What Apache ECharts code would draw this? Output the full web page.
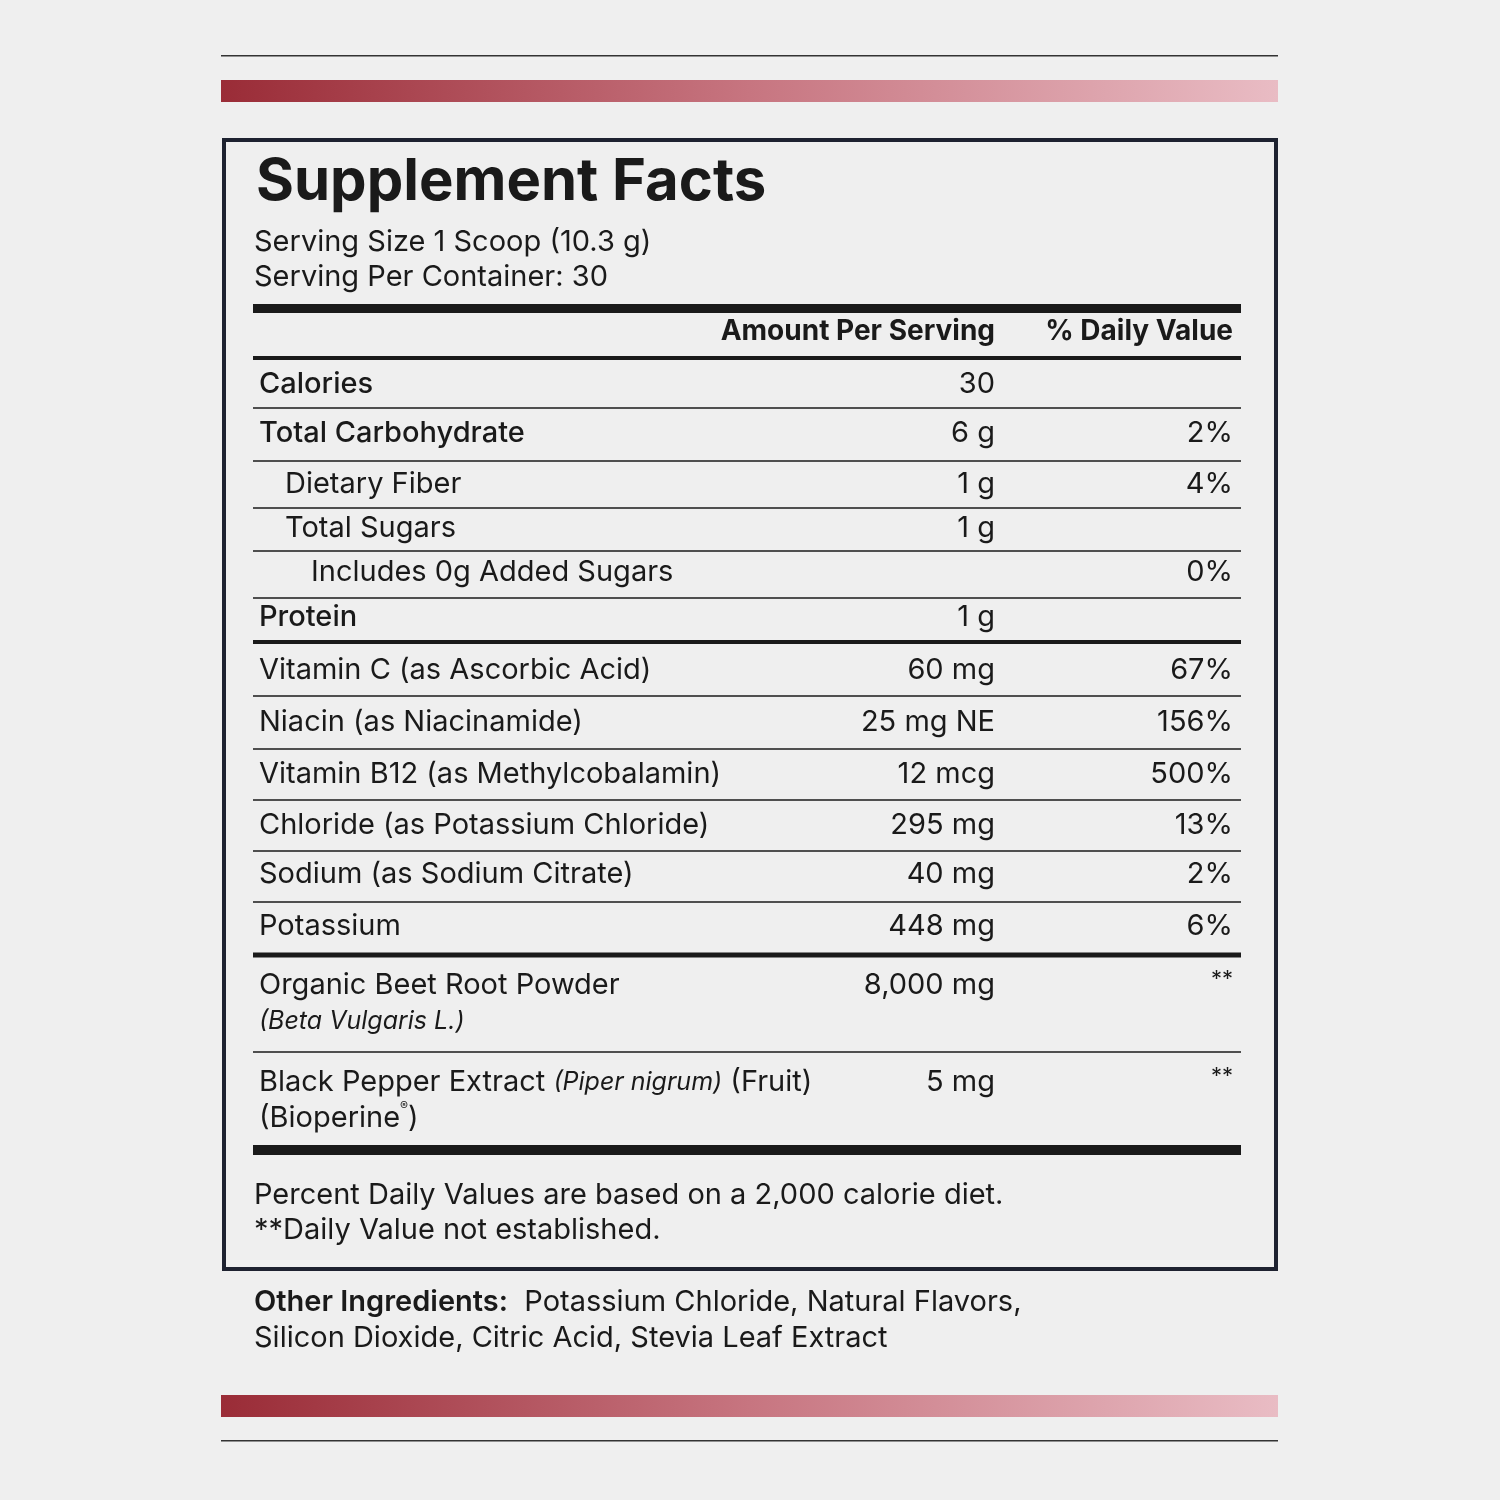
<!DOCTYPE html>
<html><head><meta charset="utf-8">
<script src="https://cdn.jsdelivr.net/npm/echarts@6/dist/echarts.min.js"></script>
<style>html,body{margin:0;background:#efefef}#main{width:1500px;height:1500px}</style>
</head><body><div id="main"></div>
<script>
// label rows
var names = ['Calories', 'Total Carbohydrate', 'Dietary Fiber', 'Total Sugars', 'Includes 0g Added Sugars', 'Protein',
  'Vitamin C (as Ascorbic Acid)', 'Niacin (as Niacinamide)', 'Vitamin B12 (as Methylcobalamin)',
  'Chloride (as Potassium Chloride)', 'Sodium (as Sodium Citrate)', 'Potassium',
  '{a|Organic Beet Root Powder}\n{i|(Beta Vulgaris L.)}',
  '{a|Black Pepper Extract }{i|(Piper nigrum)}{a| (Fruit)}\n{a|(Bioperine}{s|®}{a|)}'];
var amounts = ['30', '6 g', '1 g', '1 g', '', '1 g', '60 mg', '25 mg NE', '12 mcg', '295 mg', '40 mg', '448 mg', '8,000 mg', '5 mg'];
var dailyValues = ['', '2%', '4%', '', '0%', '', '67%', '156%', '500%', '13%', '2%', '6%', '**', '**'];
var indents = [0, 0, 1, 1, 2, 0, 0, 0, 0, 0, 0, 0, 0, 0];
var servingInfo = ['Serving Size 1 Scoop (10.3 g)', 'Serving Per Container: 30'];
var footnotes = ['Percent Daily Values are based on a 2,000 calorie diet.', '**Daily Value not established.'];

// layout
var rowY = [384, 433, 484, 528, 572, 617, 670, 722, 774, 825, 874, 926, 1003, 1100];
var sepY = [408, 461, 508, 551, 598, 642, 696, 749, 800, 851, 902, 955, 1052, 1150];
var sepW = [1.5, 1.5, 1.5, 1.5, 1.5, 4, 1.5, 1.5, 1.5, 1.5, 1.5, 5, 1.5, 10];
var FONT = 'Inter, "Noto Sans", sans-serif';
var INK = '#1a1a1a';

var chart = echarts.init(document.getElementById('main'));
var g = [];
function rect(x, y, w, h, fill) {
  g.push({ type: 'rect', shape: { x: x, y: y, width: w, height: h }, style: { fill: fill } });
}
function text(t, x, y, size, opt) {
  opt = opt || {};
  g.push({ type: 'text', x: x, y: y, style: {
    text: t, fill: INK, font: (opt.weight || 400) + ' ' + size + 'px ' + FONT,
    align: opt.align || 'left', verticalAlign: 'middle', lineHeight: opt.lh, rich: opt.rich
  } });
}
var grad = new echarts.graphic.LinearGradient(0, 0, 1, 0, [
  { offset: 0, color: '#9a2c37' }, { offset: 0.5, color: '#c77580' }, { offset: 1, color: '#e9bcc4' }]);

rect(221, 55, 1057, 1.5, '#333');
rect(221, 80, 1057, 22, grad);
rect(221, 1395, 1057, 22, grad);
rect(221, 1440, 1057, 1.5, '#333');
g.push({ type: 'rect', shape: { x: 224, y: 140, width: 1052, height: 1129 },
  style: { fill: 'transparent', stroke: '#1e2230', lineWidth: 4 } });

text('Supplement Facts', 256, 183, 58, { weight: 700 });
servingInfo.forEach(function(s, i) { text(s, 254, 242 + i * 35, 29); });
rect(253, 304, 988, 9, INK);
text('Amount Per Serving', 995, 332, 28, { weight: 700, align: 'right' });
text('% Daily Value', 1233, 332, 28, { weight: 700, align: 'right' });
rect(253, 356, 988, 4, INK);

var rich = {
  a: { font: '400 29px ' + FONT, fill: INK, lineHeight: 36 },
  i: { font: 'italic 400 25px ' + FONT, fill: INK, lineHeight: 36 },
  s: { font: '400 12px ' + FONT, fill: INK, verticalAlign: 'top', lineHeight: 36 }
};
names.forEach(function(n, i) {
  text(n, 259 + indents[i] * 26, rowY[i], 29, { weight: (i === 0 || i === 1 || i === 5) ? 500 : 400, rich: rich, lh: 36 });
  var yv = i >= 12 ? rowY[i] - 18 : rowY[i];
  text(amounts[i], 995, yv, 29, { align: 'right' });
  text(dailyValues[i], 1233, dailyValues[i] === '**' ? yv - 6 : yv, dailyValues[i] === '**' ? 22 : 29, { align: 'right' });
  rect(253, sepY[i] - sepW[i] / 2, 988, sepW[i], INK);
});

footnotes.forEach(function(s, i) { text(s, 254, 1195 + i * 35, 29); });
text('{b|Other Ingredients:}{a|  Potassium Chloride, Natural Flavors,}\n{a|Silicon Dioxide, Citric Acid, Stevia Leaf Extract}',
  254, 1320, 29, { lh: 36, rich: { a: rich.a, b: { font: '600 29px ' + FONT, fill: INK, lineHeight: 36 } } });

chart.setOption({ backgroundColor: '#efefef', graphic: g });
</script></body></html>
